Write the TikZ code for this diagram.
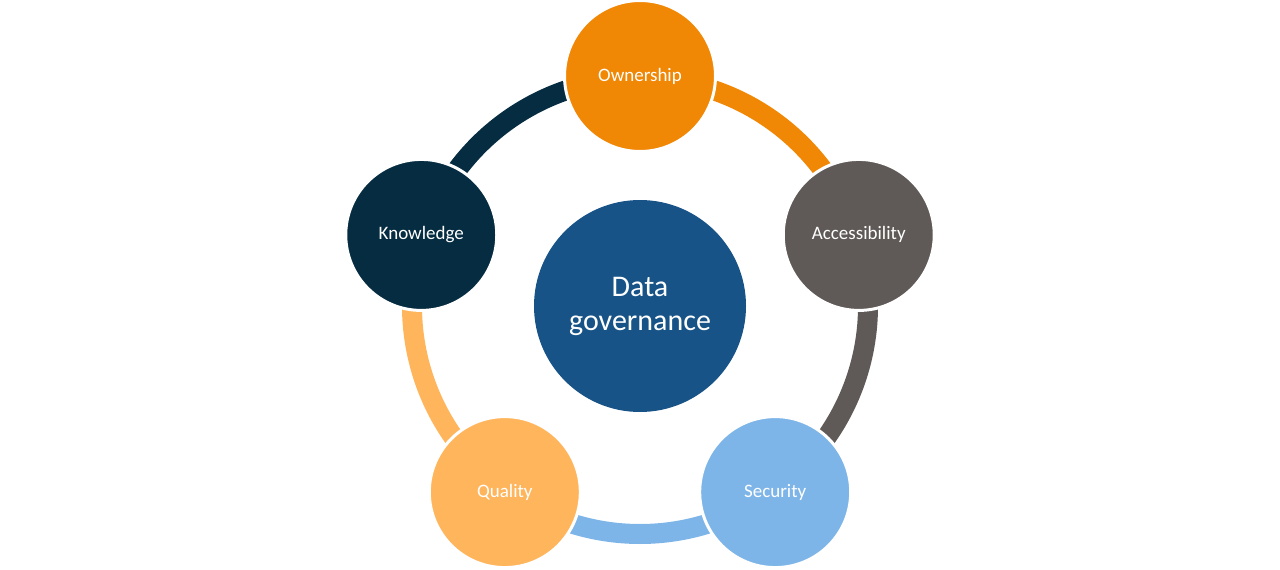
\documentclass[tikz,border=0pt]{standalone}
\usepackage{fontspec}
\setmainfont{Carlito}
\definecolor{cOwn}{HTML}{F08705}
\definecolor{cAcc}{HTML}{5F5A57}
\definecolor{cSec}{HTML}{7EB5E8}
\definecolor{cQua}{HTML}{FFB55C}
\definecolor{cKno}{HTML}{062C41}
\definecolor{cCen}{HTML}{175387}
\tikzset{
  outer/.style={circle, minimum size=151pt, inner sep=0pt, draw=white, line width=3pt,
    text=white, font=\fontsize{19}{22}\selectfont},
  ring/.style={line width=20pt, line cap=butt},
}
\begin{document}
\begin{tikzpicture}[x=1pt,y=1pt]
\useasboundingbox (0,0) rectangle (1280,-570);
\coordinate (c) at (640,-306);
\node[circle, minimum size=212pt, inner sep=0pt, fill=cCen, text=white,
  align=center, font=\fontsize{30}{34}\selectfont] (cen) at (c) {Data\\governance};
\path (c) ++(90:230) coordinate (pOwn);
\path (c) ++(18:230) coordinate (pAcc);
\path (c) ++(-54:230) coordinate (pSec);
\path (c) ++(-126:230) coordinate (pQua);
\path (c) ++(162:230) coordinate (pKno);
% ring arcs
\draw[ring, cOwn] ([shift={(90:228)}]c) arc[start angle=90, end angle=18, radius=228];
\draw[ring, cAcc] ([shift={(18:228)}]c) arc[start angle=18, end angle=-54, radius=228];
\draw[ring, cSec] ([shift={(-54:228)}]c) arc[start angle=-54, end angle=-126, radius=228];
\draw[ring, cQua] ([shift={(-126:228)}]c) arc[start angle=-126, end angle=-198, radius=228];
\draw[ring, cKno] ([shift={(162:228)}]c) arc[start angle=162, end angle=90, radius=228];
% outer circles
\node[outer, fill=cOwn] (own) at (pOwn) {Ownership};
\node[outer, fill=cAcc] (acc) at (pAcc) {Accessibility};
\node[outer, fill=cSec] (sec) at (pSec) {Security};
\node[outer, fill=cQua] (qua) at (pQua) {Quality};
\node[outer, fill=cKno] (kno) at (pKno) {Knowledge};
\end{tikzpicture}
\end{document}
